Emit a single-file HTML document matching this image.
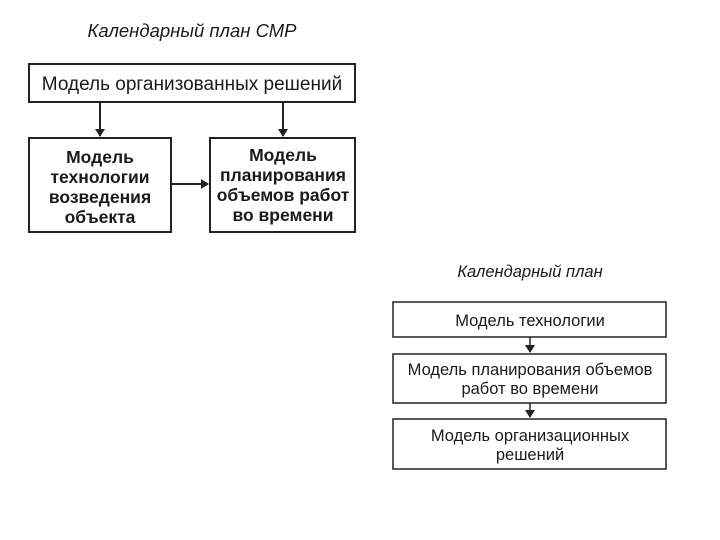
<!DOCTYPE html>
<html><head><meta charset="utf-8"><style>
html,body{margin:0;padding:0;background:#fff;}
svg{display:block;font-family:"Liberation Sans",sans-serif;}
</style></head><body>
<svg width="720" height="540" viewBox="0 0 720 540" xmlns="http://www.w3.org/2000/svg">
<defs><marker id="a" markerWidth="8" markerHeight="10" refX="7" refY="5" orient="auto" markerUnits="userSpaceOnUse"><path d="M0,0 L8,5 L0,10 z" fill="#222"/></marker></defs>
<g fill="none" stroke="#222" stroke-width="2">
<rect x="29" y="64" width="326" height="38"/>
<rect x="29" y="138" width="142" height="94"/>
<rect x="210" y="138" width="145" height="94"/>
<line x1="100" y1="102" x2="100" y2="136" marker-end="url(#a)"/>
<line x1="283" y1="102" x2="283" y2="136" marker-end="url(#a)"/>
<line x1="171" y1="184" x2="208" y2="184" marker-end="url(#a)"/>
<g stroke-width="1.5">
<rect x="393" y="302" width="273" height="35"/>
<rect x="393" y="354" width="273" height="49"/>
<rect x="393" y="419" width="273" height="50"/>
<line x1="530" y1="337" x2="530" y2="352" marker-end="url(#a)"/>
<line x1="530" y1="403" x2="530" y2="417" marker-end="url(#a)"/>
</g>
</g>
<g fill="#1a1a1a" text-anchor="middle">
<text x="192" y="37" font-size="18.5" font-style="italic">Календарный план СМР</text>
<text x="192" y="90" font-size="19">Модель организованных решений</text>
<g font-size="17.5" font-weight="bold">
<text x="100" y="163">Модель</text>
<text x="100" y="183">технологии</text>
<text x="100" y="203">возведения</text>
<text x="100" y="223">объекта</text>
<text x="283" y="161">Модель</text>
<text x="283" y="181">планирования</text>
<text x="283" y="201">объемов работ</text>
<text x="283" y="221">во времени</text>
</g>
<text x="530" y="277" font-size="16.5" font-style="italic">Календарный план</text>
<g font-size="16.5">
<text x="530" y="326">Модель технологии</text>
<text x="530" y="375">Модель планирования объемов</text>
<text x="530" y="394">работ во времени</text>
<text x="530" y="441">Модель организационных</text>
<text x="530" y="460">решений</text>
</g>
</g>
</svg>
</body></html>
